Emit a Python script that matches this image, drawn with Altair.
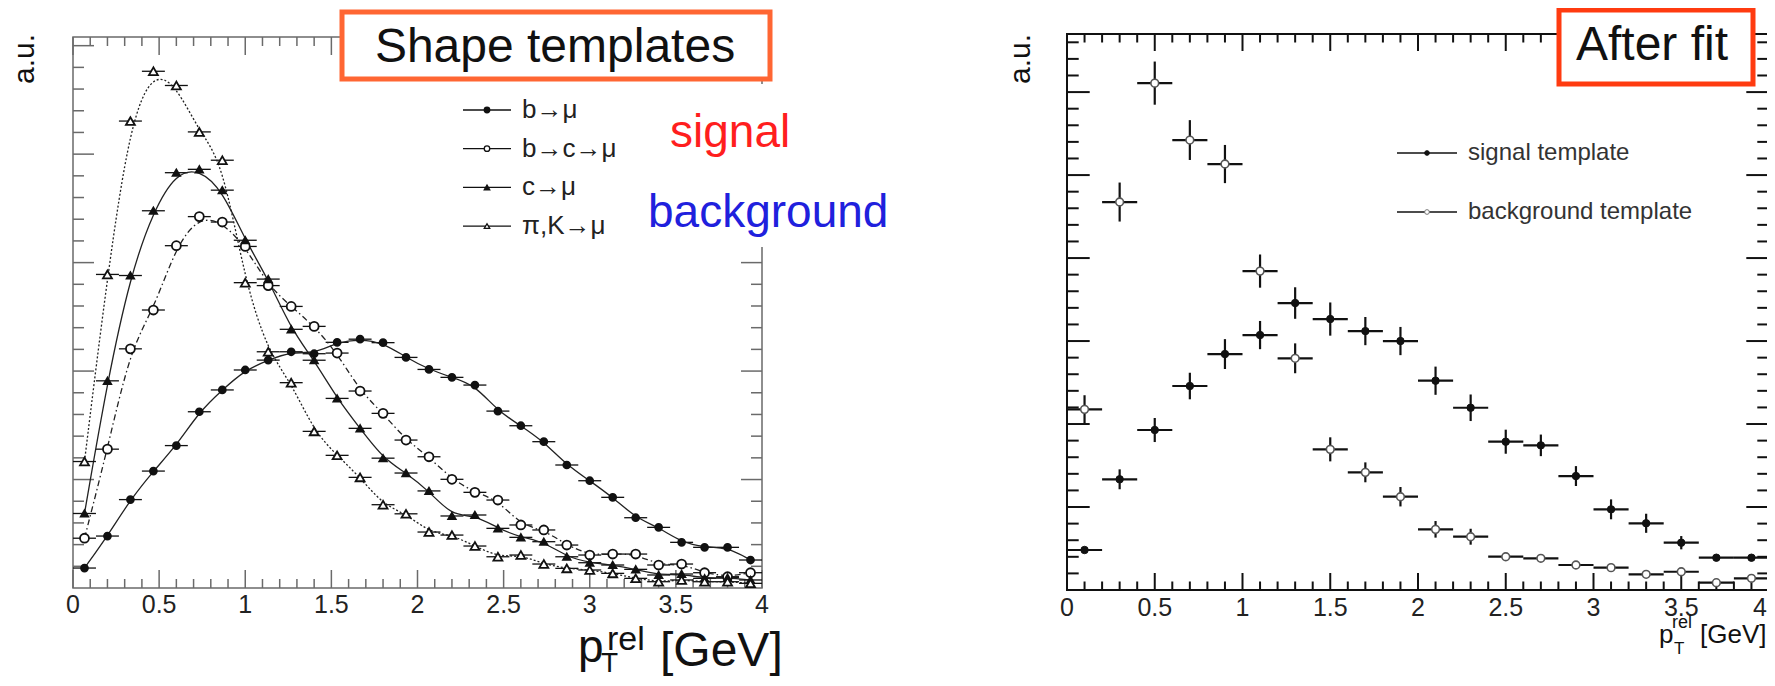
import altair as alt
import numpy as np
import pandas as pd

FONT = "Liberation Sans"
INK = "#111111"

# ---------------- data: left panel (shape templates, 30 bins in 0-4 GeV) ----------------
left_nbins = 30
left_x = [round((i + 0.5) * 4.0 / left_nbins, 4) for i in range(left_nbins)]
b_mu = [0.184, 0.479, 0.815, 1.078, 1.313, 1.625, 1.826, 2.010, 2.101, 2.178,
        2.160, 2.265, 2.294, 2.262, 2.126, 2.015, 1.942, 1.871, 1.631, 1.496,
        1.349, 1.134, 0.989, 0.836, 0.648, 0.559, 0.421, 0.375, 0.375, 0.258]
b_c_mu = [0.459, 1.280, 2.205, 2.563, 3.156, 3.424, 3.374, 3.149, 2.788, 2.596,
          2.412, 2.166, 1.816, 1.610, 1.364, 1.210, 1.002, 0.882, 0.811, 0.581,
          0.535, 0.396, 0.304, 0.313, 0.313, 0.212, 0.221, 0.141, 0.104, 0.141]
c_mu = [0.687, 1.910, 2.881, 3.478, 3.829, 3.860, 3.668, 3.206, 2.848, 2.385,
        2.100, 1.748, 1.472, 1.197, 1.060, 0.895, 0.664, 0.673, 0.550, 0.467,
        0.427, 0.288, 0.233, 0.212, 0.172, 0.120, 0.129, 0.089, 0.095, 0.074]
pik_mu = [1.166, 2.891, 4.305, 4.764, 4.633, 4.205, 3.944, 2.815, 2.178, 1.893,
          1.444, 1.223, 1.020, 0.768, 0.684, 0.516, 0.488, 0.387, 0.288, 0.304,
          0.221, 0.181, 0.166, 0.135, 0.089, 0.058, 0.074, 0.058, 0.058, 0.043]
left_names = ["b\u2192\u03bc", "b\u2192c\u2192\u03bc", "c\u2192\u03bc", "\u03c0,K\u2192\u03bc"]
left_ymax = 5.08

# ---------------- data: right panel (after fit, 20 bins in 0-4 GeV) ----------------
right_x = [0.1, 0.3, 0.5, 0.7, 0.9, 1.1, 1.3, 1.5, 1.7, 1.9,
           2.1, 2.3, 2.5, 2.7, 2.9, 3.1, 3.3, 3.5, 3.7, 3.9]
signal = [0.482, 1.334, 1.928, 2.458, 2.843, 3.072, 3.458, 3.265, 3.120, 3.000,
          2.522, 2.196, 1.787, 1.743, 1.373, 0.972, 0.804, 0.570, 0.389, 0.389]
signal_err = [0.0, 0.12, 0.145, 0.16, 0.18, 0.17, 0.19, 0.20, 0.17, 0.17,
              0.17, 0.16, 0.145, 0.13, 0.12, 0.12, 0.115, 0.08, 0.0, 0.0]
background = [2.177, 4.675, 6.108, 5.422, 5.133, 3.843, 2.792, 1.695, 1.418, 1.124,
              0.731, 0.642, 0.401, 0.382, 0.301, 0.269, 0.189, 0.220, 0.088, 0.141]
background_err = [0.17, 0.235, 0.26, 0.24, 0.23, 0.20, 0.18, 0.145, 0.12, 0.117,
                  0.10, 0.096, 0.0, 0.0, 0.0, 0.0, 0.0, 0.0, 0.0, 0.0]
right_names = ["signal template", "background template"]
right_ymax = 6.7

# ---------------- axis ticks / labels ----------------
x_major = [0, 0.5, 1, 1.5, 2, 2.5, 3, 3.5, 4]
x_labels = ["0", "0.5", "1", "1.5", "2", "2.5", "3", "3.5", "4"]
x_minor = [round(v, 2) for v in np.arange(0.1, 4.0, 0.1) if abs(v * 2 - round(v * 2)) > 1e-6]

# ---------------- scales (panel placement) ----------------
LX = alt.Scale(domain=[0, 4], range=[65, 754], nice=False, zero=False)
LY = alt.Scale(domain=[0, left_ymax], range=[580, 29], nice=False, zero=False)
RX = alt.Scale(domain=[0, 4], range=[1059, 1761], nice=False, zero=False)
RY = alt.Scale(domain=[0, right_ymax], range=[582, 26], nice=False, zero=False)


def frame_and_ticks(XS, YS, ymax, color, xmaj_len, xmin_len, ymaj_len, ymin_len, sw):
    layers = []
    fdf = pd.DataFrame({"x0": [0], "x1": [4], "y0": [0], "y1": [ymax]})
    layers.append(alt.Chart(fdf).mark_rect(filled=False, stroke=color, strokeWidth=sw).encode(
        x=alt.X("x0:Q", scale=XS, axis=None), x2="x1:Q",
        y=alt.Y("y0:Q", scale=YS, axis=None), y2="y1:Q"))
    y_major = [float(v) for v in np.arange(1, ymax, 1.0)]
    y_minor = [round(v, 2) for v in np.arange(0.2, ymax, 0.2) if abs(v - round(v)) > 1e-6]
    for ticks, xl in ((x_major, xmaj_len), (x_minor, xmin_len)):
        tdf = pd.DataFrame({"t": ticks, "b": 0.0, "top": ymax})
        layers.append(alt.Chart(tdf).mark_rule(color=color, strokeWidth=sw, y2Offset=-xl).encode(
            x=alt.X("t:Q", scale=XS, axis=None), y=alt.Y("b:Q", scale=YS, axis=None), y2="b:Q"))
        layers.append(alt.Chart(tdf).mark_rule(color=color, strokeWidth=sw, y2Offset=xl).encode(
            x=alt.X("t:Q", scale=XS, axis=None), y=alt.Y("top:Q", scale=YS, axis=None), y2="top:Q"))
    for ticks, yl in ((y_major, ymaj_len), (y_minor, ymin_len)):
        tdf = pd.DataFrame({"t": ticks, "l": 0.0, "r": 4.0})
        layers.append(alt.Chart(tdf).mark_rule(color=color, strokeWidth=sw, x2Offset=yl).encode(
            y=alt.Y("t:Q", scale=YS, axis=None), x=alt.X("l:Q", scale=XS, axis=None), x2="l:Q"))
        layers.append(alt.Chart(tdf).mark_rule(color=color, strokeWidth=sw, x2Offset=-yl).encode(
            y=alt.Y("t:Q", scale=YS, axis=None), x=alt.X("r:Q", scale=XS, axis=None), x2="r:Q"))
    return layers


def text_layer(txt, x, y, size, color=INK, align="left", baseline="alphabetic", angle=None, weight="normal"):
    kw = dict(font=FONT, fontSize=size, color=color, align=align, baseline=baseline, fontWeight=weight)
    if angle is not None:
        kw["angle"] = angle
    return alt.Chart(pd.DataFrame({"s": [txt]})).mark_text(**kw).encode(
        x=alt.value(x), y=alt.value(y), text="s:N")


# ================= left panel =================
left_layers = frame_and_ticks(LX, LY, left_ymax, "#6a6a6a", 18, 9, 21, 11, 1.5)

half_l = 2.0 / left_nbins
ldf = pd.DataFrame({"x": left_x, "lo": [v - half_l for v in left_x], "hi": [v + half_l for v in left_x],
                    "bmu": b_mu, "bcmu": b_c_mu, "cmu": c_mu, "pik": pik_mu})
series = [
    ("bmu", dict(shape="circle", fill=INK, size=48), []),
    ("bcmu", dict(shape="circle", fill="white", size=80), [6, 3, 1.5, 3]),
    ("cmu", dict(shape="triangle-up", fill=INK, size=55), []),
    ("pik", dict(shape="triangle-up", fill="white", size=80), [2, 2]),
]
for key, mk, dash in series:
    left_layers.append(alt.Chart(ldf).mark_rule(color=INK, strokeWidth=1.3).encode(
        x=alt.X("lo:Q", scale=LX, axis=None), x2="hi:Q",
        y=alt.Y(f"{key}:Q", scale=LY, axis=None)))
    lk = dict(interpolate="basis", color="#222222", strokeWidth=1.3)
    if dash:
        lk["strokeDash"] = dash
    left_layers.append(alt.Chart(ldf).mark_line(**lk).encode(
        x=alt.X("x:Q", scale=LX, axis=None), y=alt.Y(f"{key}:Q", scale=LY, axis=None)))
for key, mk, dash in series:
    left_layers.append(alt.Chart(ldf).mark_point(
        shape=mk["shape"], filled=True, fill=mk["fill"], stroke=INK, strokeWidth=1.8,
        size=mk["size"], opacity=1, fillOpacity=1).encode(
        x=alt.X("x:Q", scale=LX, axis=None), y=alt.Y(f"{key}:Q", scale=LY, axis=None)))

# tick labels
ldl = pd.DataFrame({"v": x_major, "lab": x_labels})
left_layers.append(alt.Chart(ldl).mark_text(font=FONT, fontSize=25, color="#222222", baseline="middle").encode(
    x=alt.X("v:Q", scale=LX, axis=None), y=alt.value(597), text="lab:N"))

# legend
leg_y0, leg_dy = 102, 38.7
for i, (key, mk, dash) in enumerate(series):
    yy = leg_y0 + leg_dy * i
    ldg = pd.DataFrame({"n": [left_names[i]]})
    left_layers.append(alt.Chart(ldg).mark_rule(color=INK, strokeWidth=1.3).encode(
        x=alt.value(455), x2=alt.value(503), y=alt.value(yy)))
    left_layers.append(alt.Chart(ldg).mark_point(
        shape=mk["shape"], filled=True, fill=mk["fill"], stroke=INK, strokeWidth=1.3,
        size=30, opacity=1, fillOpacity=1).encode(x=alt.value(479), y=alt.value(yy)))
    left_layers.append(alt.Chart(ldg).mark_text(font=FONT, fontSize=26, color="#222222",
                                                align="left", baseline="middle").encode(
        x=alt.value(514), y=alt.value(yy), text="n:N"))

# annotations (white backing behind the pasted signal/background labels)
left_layers.append(alt.Chart(pd.DataFrame({"a": [0]})).mark_rect(fill="white").encode(
    x=alt.value(632), x2=alt.value(800), y=alt.value(76), y2=alt.value(239)))
left_layers.append(alt.Chart(pd.DataFrame({"a": [0]})).mark_rect(
    fill="white", stroke="#FF6633", strokeWidth=5).encode(
    x=alt.value(334), x2=alt.value(762), y=alt.value(4), y2=alt.value(71)))
left_layers.append(text_layer("Shape templates", 547, 54, 48, align="center"))
left_layers.append(text_layer("signal", 662, 139, 46, color="#FF1E1E"))
left_layers.append(text_layer("background", 640, 219, 46, color="#2020DD"))
left_layers.append(text_layer("a.u.", 17, 51, 30, align="center", baseline="middle", angle=270))
# x title  p_T^rel [GeV]
left_layers.append(text_layer("p", 570, 654, 46))
left_layers.append(text_layer("T", 593, 664, 28))
left_layers.append(text_layer("rel", 599, 642, 34))
left_layers.append(text_layer("[GeV]", 652, 658, 48))

left = alt.layer(*left_layers)

# ================= right panel =================
right_layers = frame_and_ticks(RX, RY, right_ymax, INK, 17, 8.5, 22.7, 11.7, 2)

half_r = 0.1
rdf = pd.DataFrame({"x": right_x, "lo": [v - half_r for v in right_x], "hi": [v + half_r for v in right_x],
                    "sig": signal, "sig_lo": [s - e for s, e in zip(signal, signal_err)],
                    "sig_hi": [s + e for s, e in zip(signal, signal_err)], "sig_e": signal_err,
                    "bkg": background, "bkg_lo": [s - e for s, e in zip(background, background_err)],
                    "bkg_hi": [s + e for s, e in zip(background, background_err)], "bkg_e": background_err})
for key in ("sig", "bkg"):
    right_layers.append(alt.Chart(rdf).mark_rule(color=INK, strokeWidth=2.2).encode(
        x=alt.X("lo:Q", scale=RX, axis=None), x2="hi:Q", y=alt.Y(f"{key}:Q", scale=RY, axis=None)))
    right_layers.append(alt.Chart(rdf).transform_filter(f"datum.{key}_e > 0").mark_rule(
        color=INK, strokeWidth=2.2).encode(
        x=alt.X("x:Q", scale=RX, axis=None), y=alt.Y(f"{key}_lo:Q", scale=RY, axis=None), y2=f"{key}_hi:Q"))
right_layers.append(alt.Chart(rdf).mark_point(shape="circle", filled=True, fill=INK, stroke=INK,
                                              strokeWidth=1, size=55, opacity=1).encode(
    x=alt.X("x:Q", scale=RX, axis=None), y=alt.Y("sig:Q", scale=RY, axis=None)))
right_layers.append(alt.Chart(rdf).mark_point(shape="circle", filled=True, fill="white", stroke="#555555",
                                              strokeWidth=1.6, size=60, opacity=1, fillOpacity=1).encode(
    x=alt.X("x:Q", scale=RX, axis=None), y=alt.Y("bkg:Q", scale=RY, axis=None)))

rdl = pd.DataFrame({"v": x_major[:-1], "lab": x_labels[:-1]})
right_layers.append(alt.Chart(rdl).mark_text(font=FONT, fontSize=25, color="#222222", baseline="middle").encode(
    x=alt.X("v:Q", scale=RX, axis=None), y=alt.value(600), text="lab:N"))
rdl_last = pd.DataFrame({"v": x_major[-1:], "lab": x_labels[-1:]})
right_layers.append(alt.Chart(rdl_last).mark_text(font=FONT, fontSize=25, color="#222222", baseline="middle",
                                                  align="right", dx=-2).encode(
    x=alt.X("v:Q", scale=RX, axis=None), y=alt.value(600), text="lab:N"))

# legend
for i, nm in enumerate(right_names):
    yy = 145 + 59 * i
    rlg = pd.DataFrame({"n": [nm]})
    right_layers.append(alt.Chart(rlg).mark_rule(color=INK, strokeWidth=1.3).encode(
        x=alt.value(1389), x2=alt.value(1449), y=alt.value(yy)))
    right_layers.append(alt.Chart(rlg).mark_point(
        shape="circle", filled=True, fill=INK if i == 0 else "white", stroke=INK if i == 0 else "#777777",
        strokeWidth=1, size=22, opacity=1, fillOpacity=1).encode(x=alt.value(1419), y=alt.value(yy)))
    right_layers.append(alt.Chart(rlg).mark_text(font=FONT, fontSize=24, color="#333333",
                                                 align="left", baseline="middle").encode(
        x=alt.value(1460), y=alt.value(yy), text="n:N"))

right_layers.append(alt.Chart(pd.DataFrame({"a": [0]})).mark_rect(
    fill="white", stroke="#FF3B10", strokeWidth=5).encode(
    x=alt.value(1551), x2=alt.value(1745), y=alt.value(2), y2=alt.value(76)))
right_layers.append(text_layer("After fit", 1644, 52, 48, align="center"))
right_layers.append(text_layer("a.u.", 1013, 51, 30, align="center", baseline="middle", angle=270))
right_layers.append(text_layer("p", 1651, 635, 26))
right_layers.append(text_layer("T", 1666, 646, 17))
right_layers.append(text_layer("rel", 1664, 620, 18))
right_layers.append(text_layer("[GeV]", 1692, 635, 26))

right = alt.layer(*right_layers)

chart = alt.layer(left, right).resolve_scale(x="independent", y="independent").properties(
    width=1759, height=670, autosize=alt.AutoSizeParams(type="none"), padding=0,
    background="white").configure_view(stroke=None)

chart.save("out.html", embed_options={"renderer": "svg", "actions": False})
